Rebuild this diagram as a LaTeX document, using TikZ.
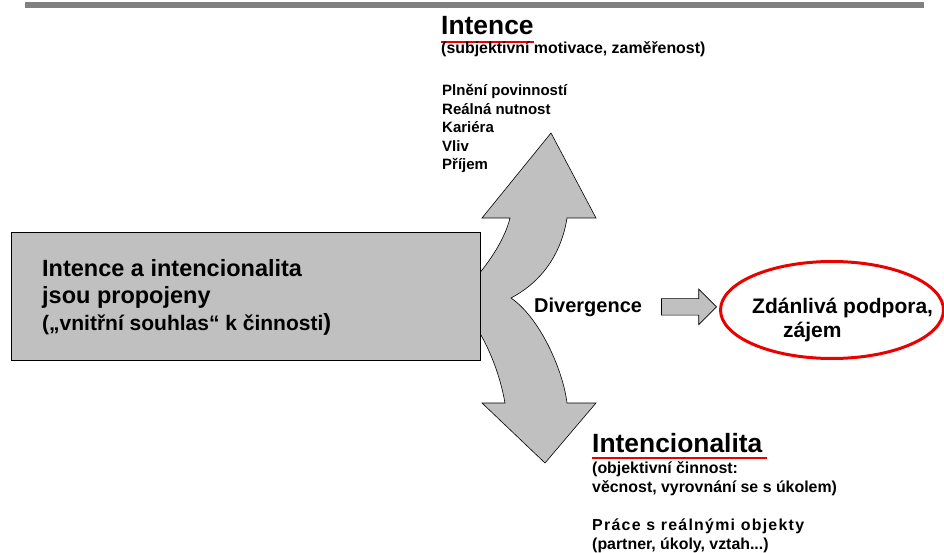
\documentclass[tikz,border=0pt]{standalone}
\usepackage{fontspec}
\setmainfont{Liberation Sans}
\usetikzlibrary{shapes.arrows,shapes.geometric,positioning}
\definecolor{slidegray}{RGB}{192,192,192}
\definecolor{bargray}{RGB}{128,128,128}
\definecolor{markred}{RGB}{235,0,0}

\begin{document}
\begin{tikzpicture}[x=1pt,y=-1pt,
  txt/.style={inner sep=0pt, anchor=base west, align=left},
  head/.style={txt, font=\bfseries\fontsize{26.4}{30}\selectfont},
  small/.style={txt, font=\bfseries\fontsize{15.9}{18.5}\selectfont},
  grayshape/.style={fill=slidegray, draw=black, line width=0.6pt},
  redline/.style={markred, line width=2.5pt}]
\useasboundingbox (0,0) rectangle (944,553);
\fill [bargray] (25,2) rectangle (924,8);

\draw [grayshape] (470,283) -- (478,275)
  .. controls (492,258) and (505,238) .. (510,218)
  -- (482,218) -- (551,133) -- (596,218) -- (567,218)
  .. controls (562,250) and (545,280) .. (511,298)
  .. controls (540,318) and (563,370) .. (567,403)
  -- (596,403) -- (545,463) -- (482,403) -- (505,403)
  .. controls (500,375) and (490,350) .. (478,330)
  -- (470,322) -- cycle;

\node (box) [grayshape, anchor=north west, minimum width=469pt, minimum height=128pt] at (11,232) {};
\node (boxtxt) [txt, font=\bfseries\fontsize{23.5}{27}\selectfont] at (42,330)
  {Intence a intencionalita\\ jsou propojeny\\
   {\fontsize{21}{27}\selectfont(„vnitřní souhlas“ k činnosti}{\fontsize{23.5}{27}\selectfont)}};

\node (intence) [head] at (441,35) {Intence};
\draw [redline] ([yshift=-7pt]intence.base west) -- ([yshift=-7pt]intence.base east);
\node (intsub) [small] at (441,54) {(subjektivní motivace, zaměřenost)};
\node (intlist) [small, font=\bfseries\fontsize{15}{18.5}\selectfont] at (442,170)
  {Plnění povinností\\ Reálná nutnost\\ Kariéra\\ Vliv\\ Příjem};

\node (intenc) [head] at (592,452) {Intencionalita};
\draw [redline] ([yshift=-6pt]intenc.base west) -- ([xshift=4pt,yshift=-6pt]intenc.base east);
\node (objsub) [small] at (592,492) {(objektivní činnost:\\ věcnost, vyrovnání se s úkolem)};
\node (objlist) [small] at (592,549)
  {{\addfontfeature{LetterSpace=8}Práce s reálnými objekty}\\ (partner, úkoly, vztah...)};

\node (div) [txt, font=\bfseries\fontsize{20}{24}\selectfont] at (534,312) {Divergence};
\node (sarr) [grayshape, single arrow, right=19pt of div, minimum height=55pt, minimum width=35pt,
  inner xsep=0pt, inner ysep=8pt, single arrow head extend=9.5pt] {};

\node (zdan) [ellipse, draw=markred, line width=3pt, minimum width=223pt, minimum height=97pt,
  inner sep=0pt] at (832,310) {};
\node (zdantxt) [txt, font=\bfseries\fontsize{21}{24}\selectfont] at (752,337)
  {Zdánlivá podpora,\\ \hspace*{31pt}zájem};
\end{tikzpicture}
\end{document}
